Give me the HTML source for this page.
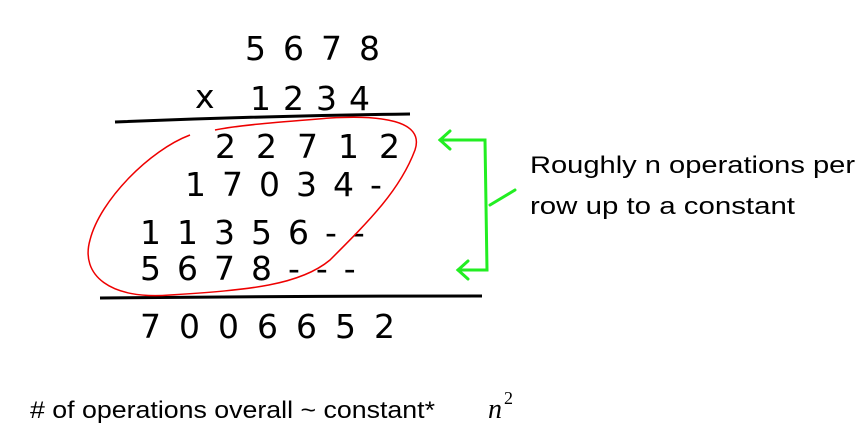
<!DOCTYPE html>
<html><head><meta charset="utf-8"><style>
html,body{margin:0;padding:0;background:#fff;width:867px;height:438px;overflow:hidden}
svg{display:block}
.d{font-family:"DejaVu Sans",sans-serif;font-size:33px;fill:#000}
.t{font-family:"Liberation Sans",sans-serif;font-size:24px;fill:#000}
</style></head><body>
<svg width="867" height="438" viewBox="0 0 867 438">
<text class="d" x="245" y="60" letter-spacing="17">5678</text>
<text class="d" x="195" y="108" font-size="20">x</text>
<text class="d" x="250" y="110" letter-spacing="12">1234</text>
<path d="M115 122 Q260 116 410 114" stroke="#000" stroke-width="3" fill="none"/>
<text class="d" x="215" y="158" letter-spacing="20">22712</text>
<text class="d" x="185" y="196" letter-spacing="16">17034-</text>
<text class="d" x="140" y="244" letter-spacing="16">11356--</text>
<text class="d" x="140" y="280" letter-spacing="16">5678---</text>
<path d="M100 298 Q290 296 482 296" stroke="#000" stroke-width="3" fill="none"/>
<text class="d" x="140" y="338" letter-spacing="18">7006652</text>
<path d="M190 135 C150 150 100 200 90 240 C80 275 110 300 170 295 C250 290 300 285 330 260 C370 220 400 190 415 150 C425 120 380 115 330 118 C280 122 240 125 215 130" stroke="#e00" stroke-width="1.5" fill="none"/>
<g stroke="#2e2" stroke-width="3" fill="none" stroke-linecap="round">
<path d="M440 140 L485 140 L487 270 L458 270"/>
<path d="M450 131 L440 140 L450 149"/>
<path d="M468 261 L458 270 L468 279"/>
<path d="M490 205 L515 190"/>
</g>
<text class="t" x="530" y="173" textLength="325" lengthAdjust="spacingAndGlyphs">Roughly n operations per</text>
<text class="t" x="530" y="214" textLength="265" lengthAdjust="spacingAndGlyphs">row up to a constant</text>
<text class="t" x="30" y="418" textLength="405" lengthAdjust="spacingAndGlyphs"># of operations overall ~ constant*</text>
<text x="488" y="418" font-family="Liberation Serif,serif" font-style="italic" font-size="28">n</text>
<text x="504" y="404" font-family="Liberation Serif,serif" font-size="18">2</text>
</svg>
</body></html>
